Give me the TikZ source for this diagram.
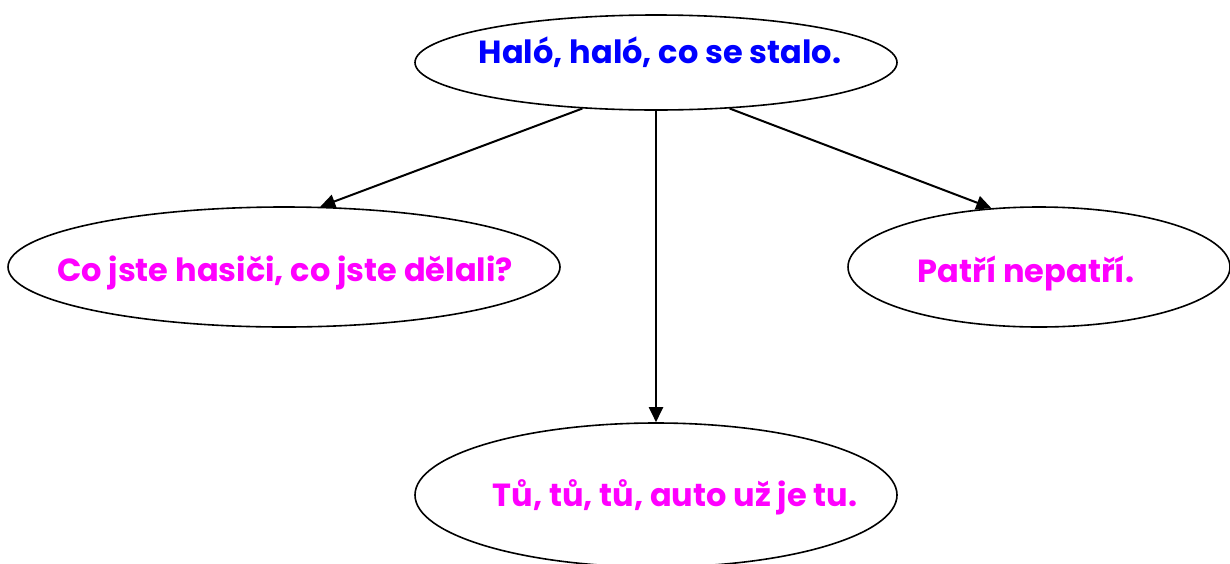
\documentclass[tikz,border=0pt]{standalone}
\usepackage{fontspec}
\setmainfont{Poppins}[BoldFont={* Bold}]
\usepackage{tikz}
\usetikzlibrary{positioning, shapes.geometric, arrows.meta}

\definecolor{callblue}{RGB}{0,0,255}
\definecolor{answerpink}{RGB}{255,0,255}

\begin{document}
\begin{tikzpicture}[
    x = 1pt, y = -1pt,
    bubble/.style = {ellipse, draw, line width=1.6pt, inner sep=0pt},
    verse/.style = {font=\fontsize{32}{36}\selectfont\bfseries, inner sep=0pt},
    link/.style = {line width=2pt, -{Triangle[length=15pt, width=14pt]}}
]
\useasboundingbox (0,0) rectangle (1230,563);

% Bubbles
    \node[bubble, minimum width=482pt, minimum height=95pt] (call) at (656,62.5) {};
    \node[bubble, minimum width=552pt, minimum height=120pt] (firemen) at (284,267) {};
    \node[bubble, minimum width=382pt, minimum height=120pt] (belongs) at (1039,267) {};
    \node[bubble, minimum width=482pt, minimum height=144pt] (siren) at (656,495) {};

% Verses
    \node[verse, text=callblue] (callText) at (660,52) {Haló, haló, co se stalo.};
    \node[verse, text=answerpink] (firemenText) at (285,273) {Co jste hasiči, co jste dělali?};
    \node[verse, text=answerpink] (belongsText) at (1026,273) {Patří nepatří.};
    \node[verse, text=answerpink] (sirenText) at (675,497) {Tů, tů, tů, auto už je tu.};

% Arrows
    \draw[link] (call.-148) -- (firemen.59);
    \draw[link] (call.south) -- (siren.north);
    \draw[link] (call.-32) -- (belongs.129);
\end{tikzpicture}
\end{document}
